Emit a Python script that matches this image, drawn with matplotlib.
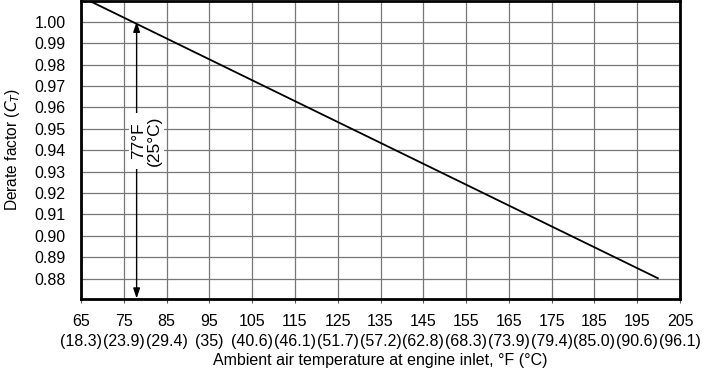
import matplotlib
matplotlib.use("Agg")
import matplotlib.pyplot as plt

plt.rcParams['font.family'] = ['Liberation Sans', 'DejaVu Sans']

temp_f = [65, 77, 200]
derate = [1.0117, 1.00, 0.88]

xticks_f = [65, 75, 85, 95, 105, 115, 125, 135, 145, 155, 165, 175, 185, 195, 205]
xticks_c = ["18.3", "23.9", "29.4", "35", "40.6", "46.1", "51.7", "57.2", "62.8",
            "68.3", "73.9", "79.4", "85.0", "90.6", "96.1"]
yticks = [0.88, 0.89, 0.90, 0.91, 0.92, 0.93, 0.94, 0.95, 0.96, 0.97, 0.98, 0.99, 1.00]

arrow_x = 78
arrow_top = 1.00
label_text = "77\u00b0F\n(25\u00b0C)"

fs = 11.5

fig = plt.figure(figsize=(7.09, 3.77), dpi=100)
ax = fig.add_axes([81/709, 1 - 298.5/377, (680-81)/709, (298.5-1)/377])

ax.set_xlim(65, 205)
ax.set_ylim(0.8707, 1.0097)

ax.set_xticks(xticks_f)
ax.set_xticklabels([f"{f}\n({c})" for f, c in zip(xticks_f, xticks_c)], fontsize=fs, linespacing=1.45)
ax.set_yticks(yticks)
ax.set_yticklabels([f"{v:.2f}" for v in yticks], fontsize=fs)
ax.tick_params(axis='y', length=0, pad=11)
ax.tick_params(axis='x', length=3, width=0.8, color='#555555', direction='out', pad=8)

ax.grid(True, color='#777777', linewidth=0.9)
ax.set_axisbelow(True)
for s in ax.spines.values():
    s.set_linewidth(2)
    s.set_color('black')

ax.plot(temp_f, derate, color='black', linewidth=1.3, solid_capstyle='butt')

ax.annotate('', xy=(arrow_x, arrow_top), xytext=(arrow_x, 0.8707),
            arrowprops=dict(arrowstyle='<|-|>,head_length=0.6,head_width=0.2', color='black', lw=1.0,
                            mutation_scale=10, shrinkA=0, shrinkB=0))
ax.text(80.3, 0.9445, label_text, rotation=90, ha='center', va='center',
        fontsize=12.5, linespacing=1.0,
        bbox=dict(facecolor='white', edgecolor='none', pad=2))

ax.set_xlabel("Ambient air temperature at engine inlet, \u00b0F (\u00b0C)", fontsize=fs, labelpad=3)
ax.set_ylabel("Derate factor ($C_T$)", fontsize=11.2, labelpad=9)

fig.savefig("out.png", dpi=100)
